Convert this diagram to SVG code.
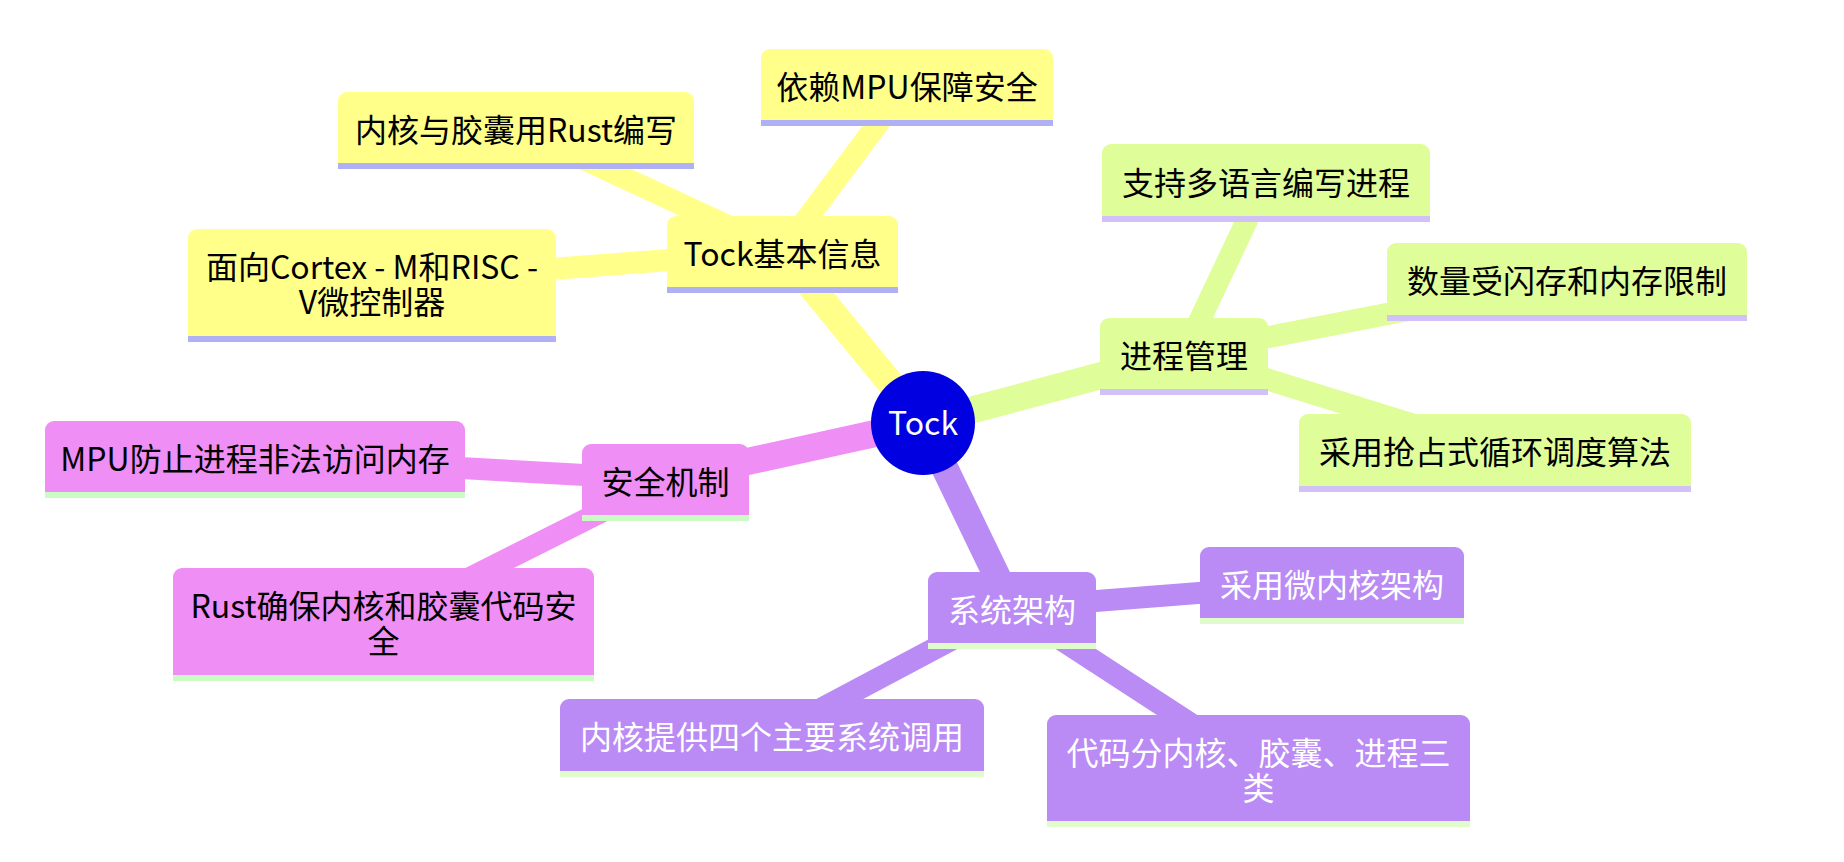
<svg xmlns="http://www.w3.org/2000/svg" width="1844" height="862" viewBox="0 0 1844 862">
<style>
text{font-family:"Noto Sans CJK SC","Noto Sans",sans-serif;font-size:32px;text-anchor:middle}
.s0 .bg{fill:#ffff8a}.s0 .ln{fill:#b0b0f5}.s0 text{fill:#000}
.s1 .bg{fill:#dffd99}.s1 .ln{fill:#d2c0f8}.s1 text{fill:#000}
.s2 .bg{fill:#ef8ef5}.s2 .ln{fill:#ccfcc6}.s2 text{fill:#000}
.s3 .bg{fill:#ba8af5}.s3 .ln{fill:#e0fccc}.s3 text{fill:#fff}
.e{fill:none;stroke-linecap:butt}
.d0{stroke-width:27}.d1{stroke-width:22}
.c0{stroke:#ffff8a}.c1{stroke:#dffd99}.c2{stroke:#ef8ef5}.c3{stroke:#ba8af5}
</style>
<rect width="1844" height="862" fill="#fff"/>
<g id="connectors">
<line class="e d1 c0" x1="782.5" y1="251.5" x2="516" y2="127.5"/>
<line class="e d1 c0" x1="782.5" y1="251.5" x2="907" y2="84.5"/>
<line class="e d1 c0" x1="782.5" y1="251.5" x2="372" y2="282.5"/>
<line class="e d1 c1" x1="1184" y1="353.5" x2="1266" y2="180"/>
<line class="e d1 c1" x1="1184" y1="353.5" x2="1567" y2="279"/>
<line class="e d1 c1" x1="1184" y1="353.5" x2="1495" y2="450"/>
<line class="e d1 c2" x1="665.5" y1="479.5" x2="255" y2="456.5"/>
<line class="e d1 c2" x1="665.5" y1="479.5" x2="383.5" y2="621.5"/>
<line class="e d1 c3" x1="1012" y1="607.5" x2="1332" y2="582.5"/>
<line class="e d1 c3" x1="1012" y1="607.5" x2="772" y2="735"/>
<line class="e d1 c3" x1="1012" y1="607.5" x2="1258.5" y2="768"/>
<line class="e d0 c0" x1="923" y1="423" x2="782.5" y2="251.5"/>
<line class="e d0 c1" x1="923" y1="423" x2="1184" y2="353.5"/>
<line class="e d0 c2" x1="923" y1="423" x2="665.5" y2="479.5"/>
<line class="e d0 c3" x1="923" y1="423" x2="1012" y2="607.5"/>
</g>
<g id="root">
<circle cx="923" cy="423" r="52" fill="#0000e0"/>
<text x="923" y="435" fill="#fff">Tock</text>
</g>
<g id="n-basic" class="s0">
<path class="bg" d="M667,287V225A9,9 0 0 1 676,216H889A9,9 0 0 1 898,225V287Z"/>
<rect class="ln" x="667" y="287" width="231" height="6"/>
<text x="782.5" y="266">Tock基本信息</text>
</g>
<g id="n-rust" class="s0">
<path class="bg" d="M338,163V101A9,9 0 0 1 347,92H685A9,9 0 0 1 694,101V163Z"/>
<rect class="ln" x="338" y="163" width="356" height="6"/>
<text x="516" y="142">内核与胶囊用Rust编写</text>
</g>
<g id="n-mpu" class="s0">
<path class="bg" d="M761,120V58A9,9 0 0 1 770,49H1044A9,9 0 0 1 1053,58V120Z"/>
<rect class="ln" x="761" y="120" width="292" height="6"/>
<text x="907" y="99">依赖MPU保障安全</text>
</g>
<g id="n-cortex" class="s0">
<path class="bg" d="M188,336V238A9,9 0 0 1 197,229H547A9,9 0 0 1 556,238V336Z"/>
<rect class="ln" x="188" y="336" width="368" height="6"/>
<text x="372" y="279">面向Cortex - M和RISC -</text>
<text x="372" y="314">V微控制器</text>
</g>
<g id="n-proc" class="s1">
<path class="bg" d="M1100,389V327A9,9 0 0 1 1109,318H1259A9,9 0 0 1 1268,327V389Z"/>
<rect class="ln" x="1100" y="389" width="168" height="6"/>
<text x="1184" y="368">进程管理</text>
</g>
<g id="n-lang" class="s1">
<path class="bg" d="M1102,216V153A9,9 0 0 1 1111,144H1421A9,9 0 0 1 1430,153V216Z"/>
<rect class="ln" x="1102" y="216" width="328" height="6"/>
<text x="1266" y="194.5">支持多语言编写进程</text>
</g>
<g id="n-limit" class="s1">
<path class="bg" d="M1387,315V252A9,9 0 0 1 1396,243H1738A9,9 0 0 1 1747,252V315Z"/>
<rect class="ln" x="1387" y="315" width="360" height="6"/>
<text x="1567" y="293">数量受闪存和内存限制</text>
</g>
<g id="n-sched" class="s1">
<path class="bg" d="M1299,486V423A9,9 0 0 1 1308,414H1682A9,9 0 0 1 1691,423V486Z"/>
<rect class="ln" x="1299" y="486" width="392" height="6"/>
<text x="1495" y="464">采用抢占式循环调度算法</text>
</g>
<g id="n-sec" class="s2">
<path class="bg" d="M582,515V453A9,9 0 0 1 591,444H740A9,9 0 0 1 749,453V515Z"/>
<rect class="ln" x="582" y="515" width="167" height="6"/>
<text x="665.5" y="494">安全机制</text>
</g>
<g id="n-mpumem" class="s2">
<path class="bg" d="M45,492V430A9,9 0 0 1 54,421H456A9,9 0 0 1 465,430V492Z"/>
<rect class="ln" x="45" y="492" width="420" height="6"/>
<text x="255" y="471">MPU防止进程非法访问内存</text>
</g>
<g id="n-rustsafe" class="s2">
<path class="bg" d="M173,675V577A9,9 0 0 1 182,568H585A9,9 0 0 1 594,577V675Z"/>
<rect class="ln" x="173" y="675" width="421" height="6"/>
<text x="383.5" y="618">Rust确保内核和胶囊代码安</text>
<text x="383.5" y="653">全</text>
</g>
<g id="n-arch" class="s3">
<path class="bg" d="M928,643V581A9,9 0 0 1 937,572H1087A9,9 0 0 1 1096,581V643Z"/>
<rect class="ln" x="928" y="643" width="168" height="6"/>
<text x="1012" y="622">系统架构</text>
</g>
<g id="n-micro" class="s3">
<path class="bg" d="M1200,618V556A9,9 0 0 1 1209,547H1455A9,9 0 0 1 1464,556V618Z"/>
<rect class="ln" x="1200" y="618" width="264" height="6"/>
<text x="1332" y="597">采用微内核架构</text>
</g>
<g id="n-syscall" class="s3">
<path class="bg" d="M560,771V708A9,9 0 0 1 569,699H975A9,9 0 0 1 984,708V771Z"/>
<rect class="ln" x="560" y="771" width="424" height="6"/>
<text x="772" y="749">内核提供四个主要系统调用</text>
</g>
<g id="n-code" class="s3">
<path class="bg" d="M1047,821V724A9,9 0 0 1 1056,715H1461A9,9 0 0 1 1470,724V821Z"/>
<rect class="ln" x="1047" y="821" width="423" height="6"/>
<text x="1258.5" y="765">代码分内核、胶囊、进程三</text>
<text x="1258.5" y="800">类</text>
</g>
</svg>
